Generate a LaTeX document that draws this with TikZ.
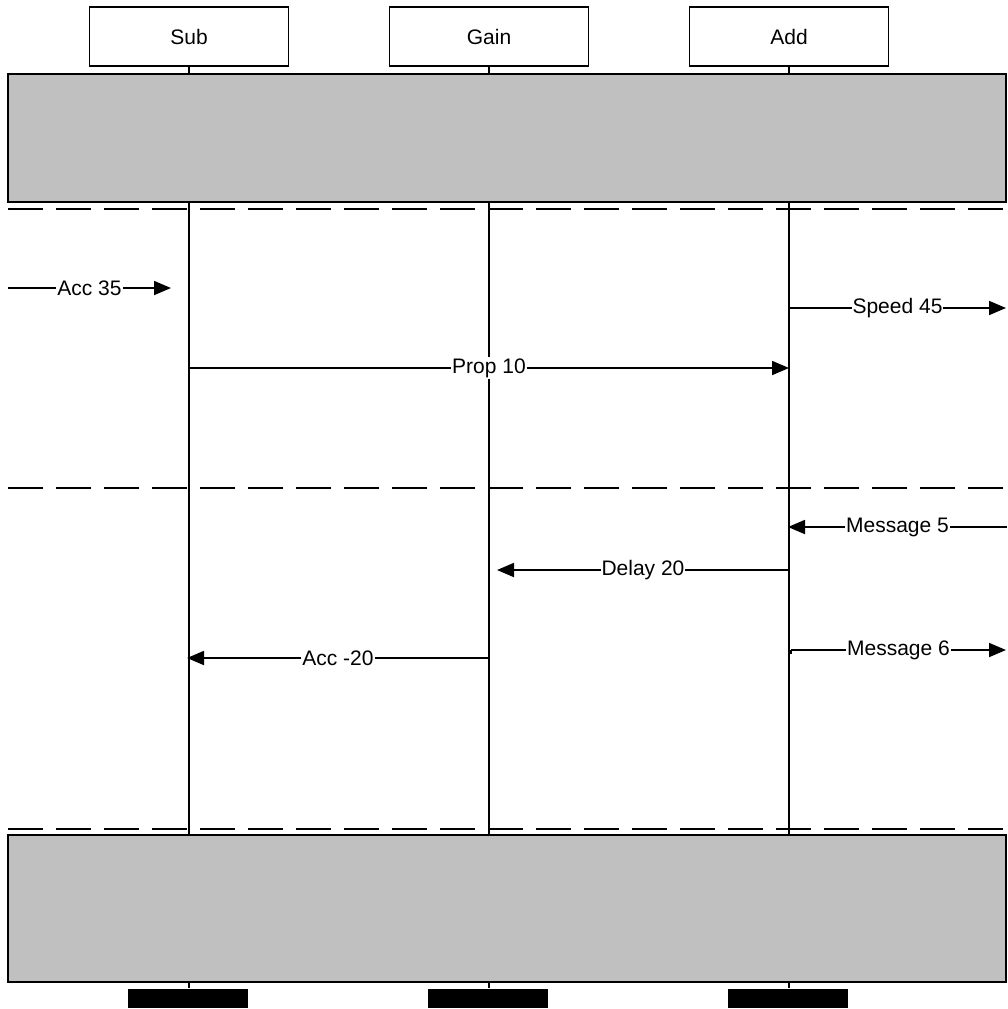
\documentclass[tikz,border=0pt]{standalone}
\usepackage{fontspec}
\setmainfont{Liberation Sans}
\usetikzlibrary{arrows.meta}
\definecolor{bandgray}{RGB}{192,192,192}
\begin{document}
\begin{tikzpicture}[x=1pt,y=-1pt, line width=1.8pt,
  headbox/.style={draw, fill=white, minimum width=199pt, minimum height=59pt, inner sep=0pt, font=\fontsize{21}{23}\selectfont},
  band/.style={draw, fill=bandgray, minimum width=998pt, inner sep=0pt},
  sepline/.style={dash pattern=on 35pt off 13pt},
  msg/.style={-{Triangle[length=17pt,width=14pt]}},
  lbl/.style={fill=white, inner sep=1pt, font=\fontsize{21}{23}\selectfont},
  lifebar/.style={fill=black, minimum width=120pt, minimum height=19pt, inner sep=0pt}]
\useasboundingbox (0,0) rectangle (1007,1009);

% separators (dashed)
\coordinate (s1l) at (8,209);  \coordinate (s1r) at (1007,209);
\coordinate (s2l) at (8,488);  \coordinate (s2r) at (1007,488);
\coordinate (s3l) at (8,829);  \coordinate (s3r) at (1007,829);
\draw[sepline] (s1l) -- (s1r);
\draw[sepline] (s2l) -- (s2r);
\draw[sepline] (s3l) -- (s3r);

% heads
\node[headbox] (sub)  at (189,36.5) {Sub};
\node[headbox] (gain) at (489,36.5) {Gain};
\node[headbox] (add)  at (789,36.5) {Add};

% bottom bars
\node[lifebar] (subbar)  at (188,998.5) {};
\node[lifebar] (gainbar) at (488,998.5) {};
\node[lifebar] (addbar)  at (788,998.5) {};

% lifelines
\draw (sub.south)  -- (sub.south |- subbar.north);
\draw (gain.south) -- (gain.south |- gainbar.north);
\draw (add.south)  -- (add.south |- addbar.north);

% gray bands
\node[band, minimum height=128pt] (topband) at (507,138) {};
\node[band, minimum height=147pt] (botband) at (507,908.5) {};

% messages
\coordinate (a35s) at (8,288);    \coordinate (a35e) at (171,288);
\draw[msg] (a35s) -- node[lbl] {Acc 35} (a35e);

\coordinate (sp45s) at (789,308); \coordinate (sp45e) at (1006,308);
\draw[msg] (sp45s) -- node[lbl] {Speed 45} (sp45e);

\coordinate (p10s) at (189,368);  \coordinate (p10e) at (789,368);
\draw[msg] (p10s) -- node[lbl] {Prop 10} (p10e);

\coordinate (m5s) at (1007,527);  \coordinate (m5e) at (788,527);
\draw[msg] (m5s) -- node[lbl] {Message 5} (m5e);

\coordinate (d20s) at (789,570);  \coordinate (d20e) at (497,570);
\draw[msg] (d20s) -- node[lbl] {Delay 20} (d20e);

\coordinate (m6k) at (791,654);  \coordinate (m6s) at (791,650); \coordinate (m6e) at (1006,650);
\draw (m6k) -- (m6s);
\draw[msg] (m6s) -- node[lbl] {Message 6} (m6e);

\coordinate (a20s) at (489,658);  \coordinate (a20e) at (187,658);
\draw[msg] (a20s) -- node[lbl] {Acc -20} (a20e);
\end{tikzpicture}
\end{document}
